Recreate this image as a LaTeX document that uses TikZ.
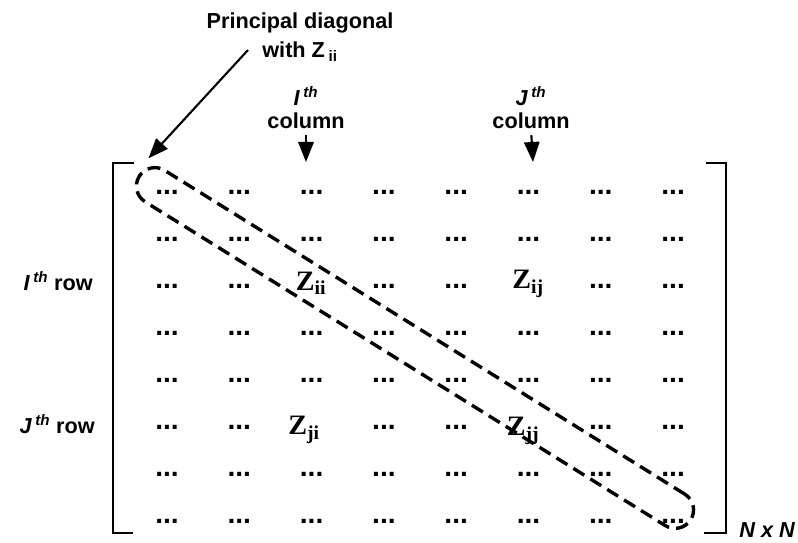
\documentclass[tikz,border=0pt]{standalone}
\usepackage{fontspec}
\setmainfont{Liberation Sans}
\newfontfamily\zfont{Liberation Serif}
\usetikzlibrary{arrows.meta}

\tikzset{
    lbl/.style={font=\fontsize{18.5}{20}\selectfont\bfseries, inner sep=0pt},
    entry/.style={font=\fontsize{24}{24}\selectfont\bfseries, inner sep=0pt},
    zentry/.style={font=\fontsize{24}{26}\selectfont\zfont\bfseries, inner sep=0pt},
    pointer/.style={line width=1.8pt, -{Triangle[length=6mm, width=4.6mm]}},
    bracket/.style={line width=2pt},
    diagloop/.style={draw, line width=2.9pt, dash pattern=on 11pt off 6pt,
        rounded corners=0.555cm, minimum width=19.49cm, minimum height=1.11cm,
        inner sep=0pt, rotate=-31.9}
}

\begin{document}
\begin{tikzpicture}[x=0.03cm, y=-0.03cm]
    \useasboundingbox (0,0) rectangle (798,543);

    % Matrix entries
    \foreach \r in {1,...,8}
        \foreach \c in {1,...,8} {
            \pgfmathtruncatemacro\isz{((\r==3) || (\r==6)) && ((\c==3) || (\c==6))}
            \ifnum\isz=0
                \node[entry] (d-\r-\c) at ({167+72.3*(\c-1)}, {192+47.1*(\r-1)}) {...};
            \fi
        }
    \node[zentry] (zii) at (311,283) {Z\textsubscript{ii}};
    \node[zentry] (zij) at (528,284) {Z\textsubscript{ij}};
    \node[zentry] (zji) at (304,430) {Z\textsubscript{ji}};
    \node[zentry] (zjj) at (523,431) {Z\textsubscript{jj}};

    % Brackets
    \draw[bracket] (134,163) -- (113,163) -- (113,533) -- (133,533);
    \draw[bracket] (706,163) -- (726,163) -- (726,533) -- (704,533);
    \node[lbl, anchor=east, font=\fontsize{18.5}{20}\selectfont\bfseries\itshape] (size) at (795,530) {N x N};

    % Principal diagonal
    \node[diagloop] (diag) at (415,348) {};
    \node[lbl, align=center, font=\fontsize{18.5}{25}\selectfont\bfseries] (title) at (300,37)
        {Principal diagonal\\with Z\,\textsubscript{ii}};
    \coordinate (diagtail) at (248,50);
    \draw[pointer] (diagtail) -- (diag.north west);

    % Columns
    \node[lbl, align=center] (colI) at (306,108) {{\itshape I}\,\textsuperscript{\itshape th}\\column};
    \node[lbl, align=center] (colJ) at (531,108) {{\itshape J}\,\textsuperscript{\itshape th}\\column};
    \coordinate (tipI) at (306,162);
    \coordinate (tipJ) at (533,162);
    \draw[pointer, shorten <=5pt] (colI.south) -- (tipI);
    \draw[pointer, shorten <=5pt] (colJ.south) -- (tipJ);

    % Rows
    \node[lbl, anchor=east] (rowI) at (93,281) {{\itshape I}\,\textsuperscript{\itshape th} row};
    \node[lbl, anchor=east] (rowJ) at (95,424) {{\itshape J}\,\textsuperscript{\itshape th} row};
\end{tikzpicture}
\end{document}
